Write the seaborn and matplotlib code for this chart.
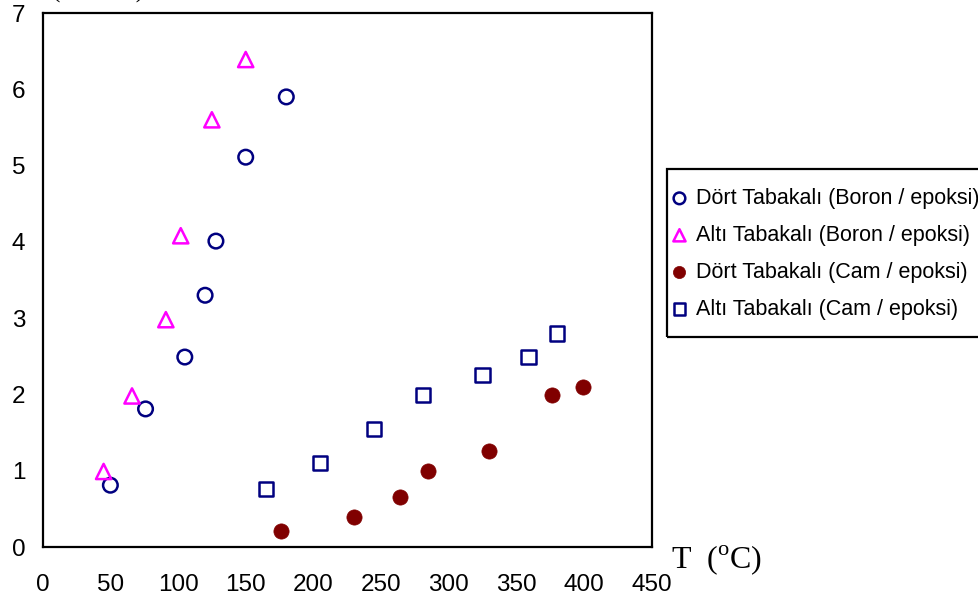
import matplotlib
matplotlib.use('Agg')
import matplotlib.pyplot as plt
import matplotlib.patches as mpatches
import seaborn as sns
import pandas as pd

# data
dort_boron_T = [50, 76, 105, 120, 128, 150, 180]
dort_boron_y = [0.81, 1.81, 2.49, 3.30, 4.01, 5.11, 5.90]

alti_boron_T = [45, 66, 91, 102, 125, 150]
alti_boron_y = [0.99, 1.98, 2.98, 4.08, 5.60, 6.39]

dort_cam_T = [176, 230, 264, 285, 330, 376, 399]
dort_cam_y = [0.21, 0.39, 0.66, 1.00, 1.26, 1.99, 2.10]

alti_cam_T = [165, 205, 245, 281, 325, 359, 380]
alti_cam_y = [0.76, 1.10, 1.55, 1.99, 2.25, 2.49, 2.80]

labels = ['Dört Tabakalı (Boron / epoksi)', 'Altı Tabakalı (Boron / epoksi)',
          'Dört Tabakalı (Cam / epoksi)', 'Altı Tabakalı (Cam / epoksi)']
x_ticks = [0, 50, 100, 150, 200, 250, 300, 350, 400, 450]
y_ticks = [0, 1, 2, 3, 4, 5, 6, 7]

sns.set_style('white')
plt.rcParams['font.family'] = ['Liberation Sans', 'DejaVu Sans']
plt.rcParams['text.color'] = 'black'
plt.rcParams['mathtext.fontset'] = 'custom'
plt.rcParams['mathtext.rm'] = 'Liberation Serif'

W, H = 979, 598
fig = plt.figure(figsize=(W / 100, H / 100), dpi=100)
ax = fig.add_axes([42.7 / W, 1 - 547 / H, 609 / W, 534 / H])

df1 = pd.DataFrame({'T': dort_boron_T, 'y': dort_boron_y})
df2 = pd.DataFrame({'T': alti_boron_T, 'y': alti_boron_y})
df3 = pd.DataFrame({'T': dort_cam_T, 'y': dort_cam_y})
df4 = pd.DataFrame({'T': alti_cam_T, 'y': alti_cam_y})

sns.scatterplot(data=df1, x='T', y='y', ax=ax, marker='o', s=110,
                facecolors='none', edgecolor='#000080', linewidth=1.8, label=labels[0])
sns.scatterplot(data=df2, x='T', y='y', ax=ax, marker='^', s=120,
                facecolors='none', edgecolor='#FF00FF', linewidth=1.8, label=labels[1])
sns.scatterplot(data=df3, x='T', y='y', ax=ax, marker='o', s=120,
                color='#800000', edgecolor='#800000', linewidth=0.5, label=labels[2])
sns.scatterplot(data=df4, x='T', y='y', ax=ax, marker='s', s=105,
                facecolors='none', edgecolor='#000080', linewidth=1.8, label=labels[3])

ax.set_xlim(0, 450)
ax.set_ylim(0, 7)
ax.set_xticks(x_ticks)
ax.set_yticks(y_ticks)
ax.set_xlabel('')
ax.set_ylabel('')
for sp in ax.spines.values():
    sp.set_color('black')
    sp.set_linewidth(1.6)
ax.tick_params(axis='both', direction='out', length=5.5, width=1.0, color='#333333',
               labelsize=17.5, labelcolor='black')
ax.tick_params(axis='x', pad=14)
ax.tick_params(axis='y', pad=7)

# axis label on the right of the x axis
fig.text(671 / W, 1 - 568 / H, r'T  ($^{\rm o}$C)', family='Liberation Serif',
         fontsize=23, ha='left', va='baseline')
# y label, cut off at the top edge in the original
fig.text(52 / W, 1 + 2 / H, '(kN/mm)', family='Liberation Serif',
         fontsize=18, ha='left', va='baseline')

# legend: entries without frame, box drawn separately (runs off the right edge)
ax.get_legend().remove()
handles, labs = ax.get_legend_handles_labels()
leg = fig.legend(handles, labs, loc='upper left',
                 bbox_to_anchor=(673 / W, 1 - 188 / H),
                 bbox_transform=fig.transFigure, fontsize=15.5, frameon=False,
                 handletextpad=0.45, handlelength=0.6, labelspacing=0.74,
                 borderpad=0, borderaxespad=0, markerscale=0.8)
for t in leg.get_texts():
    t.set_color('black')
box = mpatches.Rectangle((667 / W, 1 - 337 / H), 340 / W, 168 / H,
                         transform=fig.transFigure, fill=False,
                         edgecolor='black', linewidth=1.6)
fig.add_artist(box)

fig.savefig('out.png', dpi=100)
